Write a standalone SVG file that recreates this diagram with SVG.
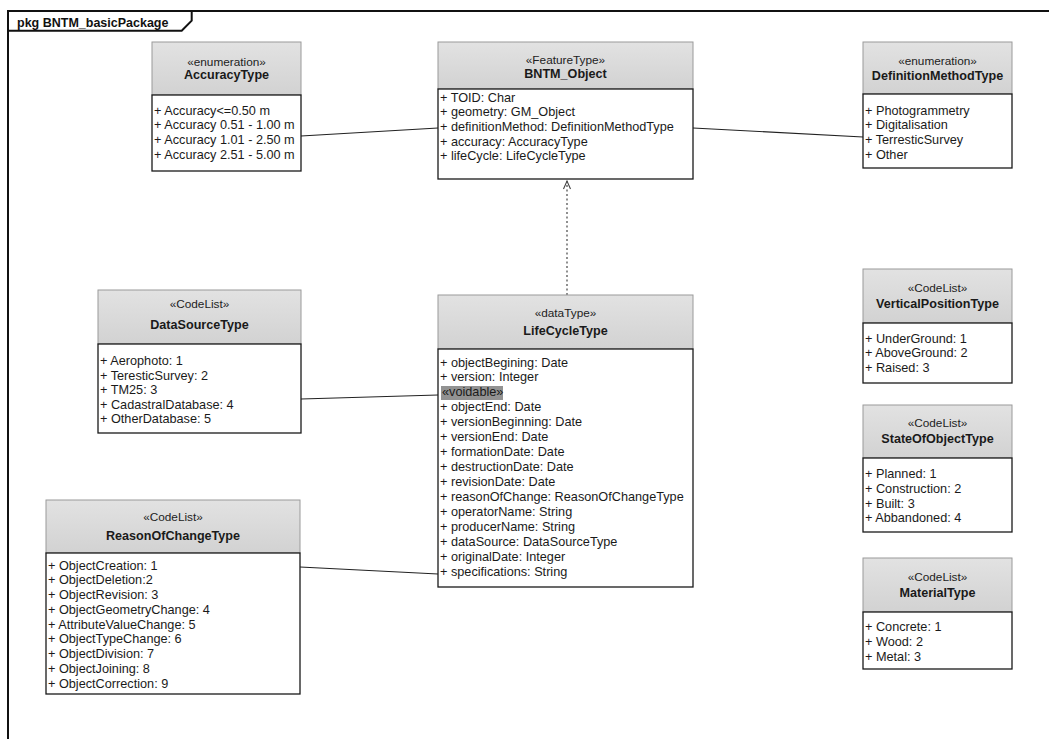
<svg xmlns="http://www.w3.org/2000/svg" width="1049" height="739" viewBox="0 0 1049 739">
  <defs>
    <linearGradient id="hdr" x1="0" y1="0" x2="0" y2="1">
      <stop offset="0" stop-color="#e2e2e2"/>
      <stop offset="0.5" stop-color="#dadada"/>
      <stop offset="1" stop-color="#d2d2d2"/>
    </linearGradient>
    <!-- open arrowhead for the dependency; tip points along +x -->
    <marker id="open" viewBox="0 0 12 12" refX="10" refY="6" markerWidth="12" markerHeight="12" markerUnits="userSpaceOnUse" orient="auto">
      <path d="M2,2.5 L10,6 L2,9.5" fill="none" stroke="#444" stroke-width="1.1"/>
    </marker>
  </defs>
  <style>
    .hdr { fill: url(#hdr); stroke: #9a9a9a; stroke-width: 1; }
    .body { fill: #ffffff; stroke: #1a1a1a; stroke-width: 1.3; }
    .st { font-family: "Liberation Sans", Arial, sans-serif; font-size: 11.8px; fill: #222; text-anchor: middle; }
    .nm { font-family: "Liberation Sans", Arial, sans-serif; font-size: 12.6px; font-weight: bold; fill: #1a1a1a; text-anchor: middle; }
    .at { font-family: "Liberation Sans", Arial, sans-serif; font-size: 12.7px; fill: #1a1a1a; }
    .ln { stroke: #222; stroke-width: 1.2; fill: none; }
    .dep { stroke: #555; stroke-width: 1.3; fill: none; stroke-dasharray: 2 2.5; }
    .frame { stroke: #111; stroke-width: 2; fill: none; }
    .title { font-family: "Liberation Sans", Arial, sans-serif; font-size: 12.5px; font-weight: bold; fill: #111; }
  </style>

  <rect width="1049" height="739" fill="#ffffff"/>

  <!-- package frame with name tab -->
  <g id="frame">
    <path class="frame" d="M8,739 V11 H1049"/>
    <path class="frame" d="M8,30.7 H181.7 L191.7,20.7 V11" stroke-width="1.4"/>
    <text class="title" x="17" y="27">pkg BNTM_basicPackage</text>
  </g>

  <!-- connectors -->
  <g id="connectors">
    <line class="ln" x1="301" y1="136" x2="438" y2="128"/>
    <line class="ln" x1="693" y1="128" x2="863" y2="137"/>
    <line class="ln" x1="301" y1="399" x2="438" y2="395"/>
    <line class="ln" x1="300" y1="567" x2="438" y2="574"/>
    <line class="dep" x1="567" y1="295" x2="567" y2="181" marker-end="url(#open)"/>
  </g>

  <g id="AccuracyType">
    <rect class="hdr" x="152" y="42" width="149" height="53"/>
    <rect class="body" x="152" y="95" width="149" height="76"/>
    <text class="st" x="226.5" y="66">«enumeration»</text>
    <text class="nm" x="226.5" y="79">AccuracyType</text>
    <text class="at" x="154" y="114.5">+ Accuracy&lt;=0.50 m</text>
    <text class="at" x="154" y="129.3">+ Accuracy 0.51 - 1.00 m</text>
    <text class="at" x="154" y="144.1">+ Accuracy 1.01 - 2.50 m</text>
    <text class="at" x="154" y="158.9">+ Accuracy 2.51 - 5.00 m</text>
  </g>

  <g id="BNTM_Object">
    <rect class="hdr" x="438" y="42" width="255" height="47"/>
    <rect class="body" x="438" y="89" width="255" height="90"/>
    <text class="st" x="565.5" y="64">«FeatureType»</text>
    <text class="nm" x="565.5" y="78">BNTM_Object</text>
    <text class="at" x="440" y="101.5">+ TOID: Char</text>
    <text class="at" x="440" y="116.2">+ geometry: GM_Object</text>
    <text class="at" x="440" y="130.9">+ definitionMethod: DefinitionMethodType</text>
    <text class="at" x="440" y="145.6">+ accuracy: AccuracyType</text>
    <text class="at" x="440" y="160.3">+ lifeCycle: LifeCycleType</text>
  </g>

  <g id="DefinitionMethodType">
    <rect class="hdr" x="863" y="42" width="149" height="52"/>
    <rect class="body" x="863" y="94" width="149" height="74"/>
    <text class="st" x="937.5" y="65">«enumeration»</text>
    <text class="nm" x="937.5" y="79.5">DefinitionMethodType</text>
    <text class="at" x="865" y="114.5">+ Photogrammetry</text>
    <text class="at" x="865" y="129">+ Digitalisation</text>
    <text class="at" x="865" y="143.5">+ TerresticSurvey</text>
    <text class="at" x="865" y="158.5">+ Other</text>
  </g>

  <g id="DataSourceType">
    <rect class="hdr" x="98" y="290" width="203" height="54"/>
    <rect class="body" x="98" y="344" width="203" height="89"/>
    <text class="st" x="199.5" y="308">«CodeList»</text>
    <text class="nm" x="199.5" y="328.5">DataSourceType</text>
    <text class="at" x="100" y="365">+ Aerophoto: 1</text>
    <text class="at" x="100" y="379.5">+ TeresticSurvey: 2</text>
    <text class="at" x="100" y="394">+ TM25: 3</text>
    <text class="at" x="100" y="408.5">+ CadastralDatabase: 4</text>
    <text class="at" x="100" y="423">+ OtherDatabase: 5</text>
  </g>

  <g id="LifeCycleType">
    <rect class="hdr" x="438" y="295" width="255" height="54"/>
    <rect class="body" x="438" y="349" width="255" height="238"/>
    <text class="st" x="565.5" y="317">«dataType»</text>
    <text class="nm" x="565.5" y="334.5">LifeCycleType</text>
    <text class="at" x="440" y="366.5">+ objectBegining: Date</text>
    <text class="at" x="440" y="381.4">+ version: Integer</text>
    <rect x="441" y="386" width="62" height="14" fill="#929292"/>
    <text class="at" x="442" y="396.4" fill="#dcdcdc">«voidable»</text>
    <text class="at" x="440" y="411.3">+ objectEnd: Date</text>
    <text class="at" x="440" y="426.2">+ versionBeginning: Date</text>
    <text class="at" x="440" y="441.1">+ versionEnd: Date</text>
    <text class="at" x="440" y="456">+ formationDate: Date</text>
    <text class="at" x="440" y="471">+ destructionDate: Date</text>
    <text class="at" x="440" y="486">+ revisionDate: Date</text>
    <text class="at" x="440" y="500.9">+ reasonOfChange: ReasonOfChangeType</text>
    <text class="at" x="440" y="515.8">+ operatorName: String</text>
    <text class="at" x="440" y="530.7">+ producerName: String</text>
    <text class="at" x="440" y="545.6">+ dataSource: DataSourceType</text>
    <text class="at" x="440" y="560.5">+ originalDate: Integer</text>
    <text class="at" x="440" y="575.5">+ specifications: String</text>
  </g>

  <g id="ReasonOfChangeType">
    <rect class="hdr" x="46" y="500" width="254" height="53"/>
    <rect class="body" x="46" y="553" width="254" height="141"/>
    <text class="st" x="173" y="521">«CodeList»</text>
    <text class="nm" x="173" y="539.5">ReasonOfChangeType</text>
    <text class="at" x="48" y="569.5">+ ObjectCreation: 1</text>
    <text class="at" x="48" y="584.2">+ ObjectDeletion:2</text>
    <text class="at" x="48" y="599">+ ObjectRevision: 3</text>
    <text class="at" x="48" y="613.7">+ ObjectGeometryChange: 4</text>
    <text class="at" x="48" y="628.5">+ AttributeValueChange: 5</text>
    <text class="at" x="48" y="643.2">+ ObjectTypeChange: 6</text>
    <text class="at" x="48" y="658">+ ObjectDivision: 7</text>
    <text class="at" x="48" y="672.7">+ ObjectJoining: 8</text>
    <text class="at" x="48" y="687.5">+ ObjectCorrection: 9</text>
  </g>

  <g id="VerticalPositionType">
    <rect class="hdr" x="863" y="269" width="149" height="54"/>
    <rect class="body" x="863" y="323" width="149" height="60"/>
    <text class="st" x="937.5" y="292">«CodeList»</text>
    <text class="nm" x="937.5" y="307.5">VerticalPositionType</text>
    <text class="at" x="865" y="342.5">+ UnderGround: 1</text>
    <text class="at" x="865" y="357">+ AboveGround: 2</text>
    <text class="at" x="865" y="371.5">+ Raised: 3</text>
  </g>

  <g id="StateOfObjectType">
    <rect class="hdr" x="863" y="405" width="149" height="53"/>
    <rect class="body" x="863" y="458" width="149" height="74"/>
    <text class="st" x="937.5" y="427">«CodeList»</text>
    <text class="nm" x="937.5" y="442.5">StateOfObjectType</text>
    <text class="at" x="865" y="477.5">+ Planned: 1</text>
    <text class="at" x="865" y="492.5">+ Construction: 2</text>
    <text class="at" x="865" y="507.5">+ Built: 3</text>
    <text class="at" x="865" y="522">+ Abbandoned: 4</text>
  </g>

  <g id="MaterialType">
    <rect class="hdr" x="863" y="558" width="149" height="54"/>
    <rect class="body" x="863" y="612" width="149" height="57"/>
    <text class="st" x="937.5" y="581">«CodeList»</text>
    <text class="nm" x="937.5" y="596.5">MaterialType</text>
    <text class="at" x="865" y="630.5">+ Concrete: 1</text>
    <text class="at" x="865" y="645.5">+ Wood: 2</text>
    <text class="at" x="865" y="660.5">+ Metal: 3</text>
  </g>
</svg>
